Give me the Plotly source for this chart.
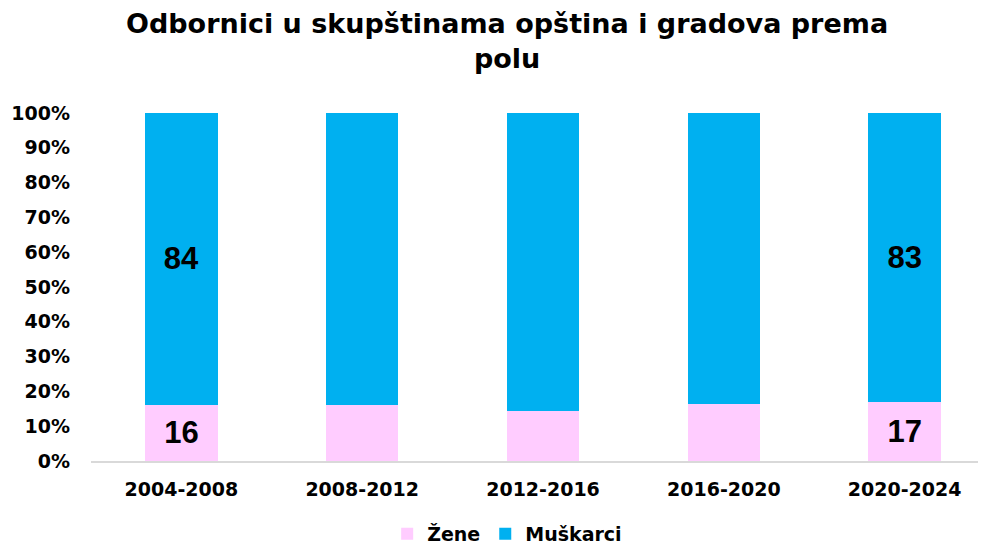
import plotly.graph_objects as go

periods = ["2004-2008", "2008-2012", "2012-2016", "2016-2020", "2020-2024"]
zene = [16.2, 16.2, 14.5, 16.4, 17.0]
muskarci = [83.8, 83.8, 85.5, 83.6, 83.0]
labeled = [0, 4]  # only first and last bars carry value labels

zene_text = [f"{round(v)}" if i in labeled else "" for i, v in enumerate(zene)]
musk_text = [f"{round(v)}" if i in labeled else "" for i, v in enumerate(muskarci)]

label_font = dict(family="Liberation Sans", size=31, color="black", weight="bold")

fig = go.Figure()
fig.add_trace(
    go.Bar(
        x=periods,
        y=zene,
        name="Žene",
        marker=dict(color="#FFCCFF", line=dict(width=0)),
        text=zene_text,
        textposition="inside",
        insidetextanchor="middle",
        textfont=label_font,
        width=0.4,
    )
)
fig.add_trace(
    go.Bar(
        x=periods,
        y=muskarci,
        name="Muškarci",
        marker=dict(color="#00B0F0", line=dict(width=0)),
        text=musk_text,
        textposition="inside",
        insidetextanchor="middle",
        textfont=label_font,
        width=0.4,
    )
)

# page body adds an 8px offset, so the figure is laid out 8px up/left
fig.add_annotation(
    text="<b>Odbornici u skupštinama opština i gradova prema<br>polu</b>",
    xref="paper",
    yref="paper",
    x=(499 - 83) / 895,
    xanchor="center",
    y=1 + (105 + 2) / 348,
    yanchor="top",
    showarrow=False,
    font=dict(size=27, family="DejaVu Sans", color="black"),
)

fig.update_layout(
    barmode="stack",
    width=986,
    height=548,
    margin=dict(l=83, r=8, t=105, b=95, autoexpand=False),
    paper_bgcolor="white",
    plot_bgcolor="white",
    font=dict(family="DejaVu Sans", color="black"),
    xaxis=dict(
        range=[-0.5, 4.45],
        showline=True,
        linecolor="#D9D9D9",
        linewidth=2,
        showgrid=False,
        ticks="",
        automargin=False,
        tickfont=dict(size=19, family="DejaVu Sans", weight="bold"),
        ticklabelstandoff=10,
    ),
    yaxis=dict(
        range=[0, 100],
        dtick=10,
        ticksuffix="%",
        showgrid=False,
        showline=False,
        zeroline=False,
        ticks="",
        automargin=False,
        tickfont=dict(size=19, family="DejaVu Sans", weight="bold"),
        ticklabelstandoff=20,
    ),
    legend=dict(
        orientation="h",
        traceorder="normal",
        x=0.465,
        xanchor="center",
        yref="container",
        y=41 / 548,
        yanchor="top",
        font=dict(size=19, family="DejaVu Sans", weight="bold"),
        itemwidth=30,
    ),
)

fig.write_html("out.html")
